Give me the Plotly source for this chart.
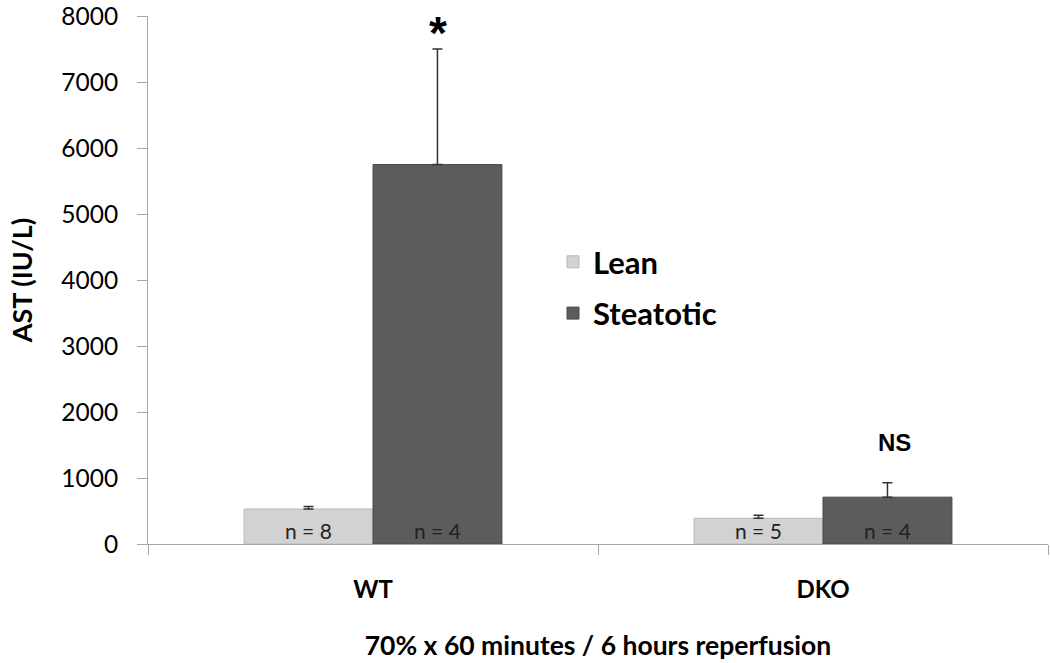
import plotly.graph_objects as go

groups = ["WT", "DKO"]
lean_vals = [530, 390]
lean_err = [40, 45]
steat_vals = [5750, 710]
steat_err = [1750, 220]
lean_n = ["n = 8", "n = 5"]
steat_n = ["n = 4", "n = 4"]
y_ticks = [0, 1000, 2000, 3000, 4000, 5000, 6000, 7000, 8000]

FONT = "Lato, 'Open Sans', sans-serif"
HALF = 0.1435  # half of a bar width in category units (for label placement)

fig = go.Figure()
fig.add_trace(go.Bar(
    name="Lean", x=groups, y=lean_vals,
    marker=dict(color="#d2d2d2", line=dict(color="#b8b8b8", width=1)),
    error_y=dict(type="data", symmetric=False, array=lean_err,
                 arrayminus=[0, 0], color="#333333", thickness=1.5, width=5),
    legendgroup="a",
))
fig.add_trace(go.Bar(
    name="Steatotic", x=groups, y=steat_vals,
    marker=dict(color="#5c5c5c", line=dict(color="#4a4a4a", width=1)),
    error_y=dict(type="data", symmetric=False, array=steat_err,
                 arrayminus=[0, 0], color="#333333", thickness=1.5, width=5),
    legendgroup="b",
))

# n labels at the bottom of each bar
for i, g in enumerate(groups):
    fig.add_annotation(x=i - HALF, y=0, xref="x", yref="y", text=lean_n[i],
                       showarrow=False, yanchor="bottom", yshift=-1,
                       font=dict(size=21, color="#222222", family=FONT))
    fig.add_annotation(x=i + HALF, y=0, xref="x", yref="y", text=steat_n[i],
                       showarrow=False, yanchor="bottom", yshift=-1,
                       font=dict(size=21, color="#222222", family=FONT))

# significance marks
fig.add_annotation(x=HALF, y=steat_vals[0] + steat_err[0], xref="x", yref="y",
                   text="<b>*</b>", showarrow=False, yanchor="bottom", yshift=-12,
                   font=dict(size=46, color="black", family="Liberation Sans"))
fig.add_annotation(x=1 + HALF, y=steat_vals[1] + steat_err[1], xref="x", yref="y",
                   text="<b>NS</b>", showarrow=False, yanchor="bottom", yshift=25,
                   xshift=7,
                   font=dict(size=24, color="black", family="Liberation Sans"))

fig.update_layout(
    width=1050, height=663,
    margin=dict(l=148, r=2, t=16, b=119, autoexpand=False),
    paper_bgcolor="white", plot_bgcolor="white",
    barmode="group", bargap=0.427, bargroupgap=0,
    font=dict(family=FONT, color="black"),
    showlegend=True,
    legend=dict(x=0.45, y=0.585, xanchor="left", yanchor="top",
                font=dict(size=31, weight="bold", family=FONT),
                traceorder="grouped", tracegroupgap=8,
                bgcolor="rgba(0,0,0,0)", itemwidth=30),
    xaxis=dict(
        automargin=False,
        showline=True, linecolor="#a6a6a6", linewidth=1,
        ticks="outside", tickson="boundaries", ticklen=10, tickcolor="#a6a6a6",
        tickfont=dict(size=24, weight="bold", family=FONT),
        ticklabelstandoff=24,
        title=dict(text="<b>70% x 60 minutes / 6 hours reperfusion</b>",
                   font=dict(size=26.5, family=FONT), standoff=34),
        showgrid=False,
    ),
    yaxis=dict(
        automargin=False,
        range=[0, 8001], tickvals=y_ticks,
        showline=True, linecolor="#a6a6a6", linewidth=1,
        ticks="outside", ticklen=10, tickcolor="#a6a6a6",
        tickfont=dict(size=24.5, family=FONT),
        ticklabelstandoff=14, ticklabeloverflow="allow",
        title=dict(text="<b>AST (IU/L)</b>", font=dict(size=27, family=FONT), standoff=20),
        showgrid=False, zeroline=False,
    ),
)

fig.write_html("out.html", config={"displayModeBar": False},
               post_script="document.body.style.margin='0';document.body.style.overflow='hidden';")
